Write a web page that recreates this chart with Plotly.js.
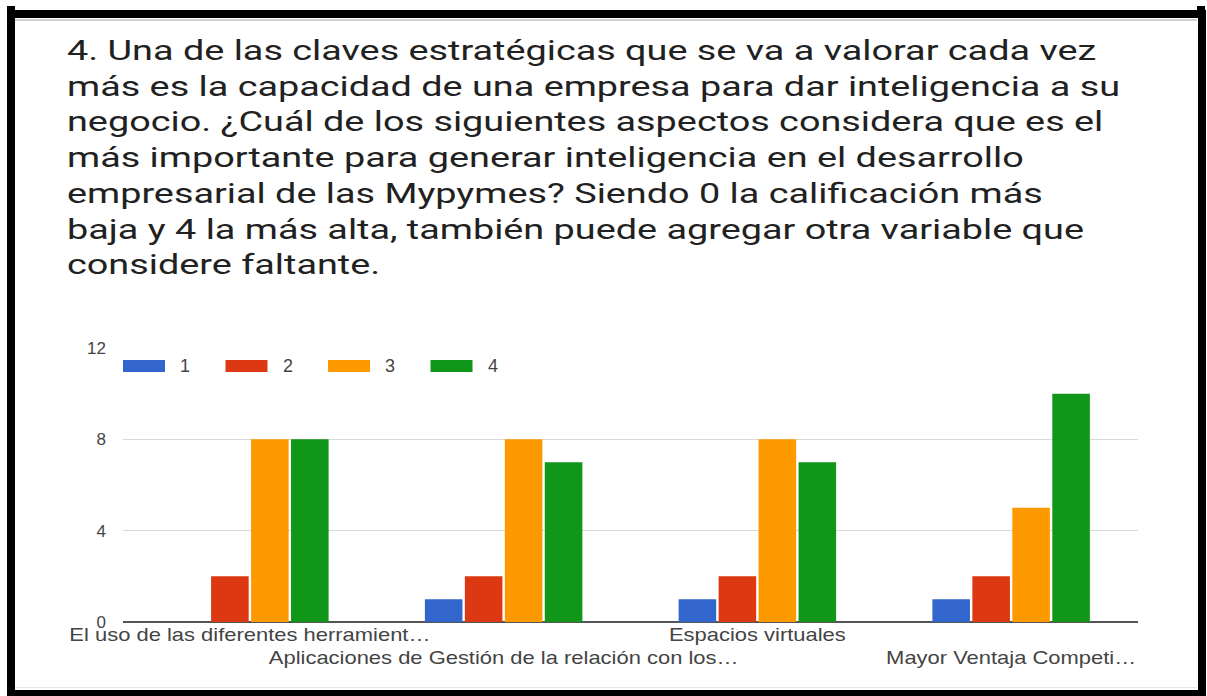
<!DOCTYPE html>
<html>
<head>
<meta charset="utf-8">
<script src="https://cdn.plot.ly/plotly-3.0.1.min.js"></script>
<style>
  html, body { margin: 0; padding: 0; background: #fff; overflow: hidden; }
  #chart { width: 1207px; height: 696px; }
  #frame { position: absolute; left: 7px; top: 10px; width: 1183px; height: 672px; border: 8px solid #000; pointer-events: none; }
  #nub { position: absolute; left: 7px; top: 6px; width: 8px; height: 6px; background: #000; }
  #nub2 { position: absolute; left: 1197px; top: 6px; width: 8px; height: 6px; background: #000; }
  #hl1 { position: absolute; left: 15px; top: 19px; width: 1182px; height: 2px; background: #d0d0d0; }
  #hl2 { position: absolute; left: 15px; top: 687px; width: 1182px; height: 1px; background: #e6e6e6; }
</style>
</head>
<body>
<div id="chart"></div>
<div id="frame"></div>
<div id="nub"></div>
<div id="nub2"></div>
<div id="hl1"></div>
<div id="hl2"></div>
<script>
const categories = [
  "El uso de las diferentes herramient\u2026",
  "Aplicaciones de Gesti\u00f3n de la relaci\u00f3n con los\u2026",
  "Espacios virtuales",
  "Mayor Ventaja Competi\u2026"
];
const seriesNames = ["1", "2", "3", "4"];
const values1 = [0, 1, 1, 1];
const values2 = [2, 2, 2, 2];
const values3 = [8, 8, 8, 5];
const values4 = [8, 7, 7, 10];
const yTicks = [0, 4, 8, 12];
const colors = ["#3366cc", "#dc3912", "#ff9900", "#109618"];

const titleText = "4. Una de las claves estrat\u00e9gicas que se va a valorar cada vez<br>" +
  "m\u00e1s es la capacidad de una empresa para dar inteligencia a su<br>" +
  "negocio. \u00bfCu\u00e1l de los siguientes aspectos considera que es el<br>" +
  "m\u00e1s importante para generar inteligencia en el desarrollo<br>" +
  "empresarial de las Mypymes? Siendo 0 la calificaci\u00f3n m\u00e1s<br>" +
  "baja y 4 la m\u00e1s alta, tambi\u00e9n puede agregar otra variable que<br>" +
  "considere faltante.";

const allValues = [values1, values2, values3, values4];
const traces = allValues.map((v, i) => ({
  type: "bar",
  name: seriesNames[i],
  x: categories,
  y: v,
  marker: { color: colors[i], line: { width: 0 } },
  showlegend: false,
  hoverinfo: "x+y+name"
}));

// alternate tick labels on two rows
const tickText = categories.map((c, i) => (i % 2 === 1 ? "<br>" + c : c));

const W = 1207, H = 696;
const PL = 123, PR = 1138, PT = 348, PB = 622;

// custom wide legend swatches
const shapes = [];
const annotations = [];
const legX0 = 123, legStep = 102.5, swW = 42, legY = 366;
seriesNames.forEach((n, i) => {
  const x0 = legX0 + i * legStep;
  shapes.push({
    type: "rect", xref: "paper", yref: "paper",
    x0: (x0 - PL) / (PR - PL), x1: (x0 + swW - PL) / (PR - PL),
    y0: (PB - (legY + 6)) / (PB - PT), y1: (PB - (legY - 6)) / (PB - PT),
    fillcolor: colors[i], line: { width: 0 }
  });
  annotations.push({
    xref: "paper", yref: "paper",
    x: (x0 + swW + 13 - PL) / (PR - PL),
    y: (PB - legY) / (PB - PT),
    xanchor: "left", yanchor: "middle",
    text: n, showarrow: false,
    font: { family: "Liberation Sans, Arial, sans-serif", size: 18, color: "#444" }
  });
});

const layout = {
  width: W, height: H,
  paper_bgcolor: "#fff", plot_bgcolor: "#fff",
  margin: { l: PL, r: W - PR, t: PT, b: H - PB, pad: 0 },
  title: {
    text: titleText,
    x: 67 / W, xanchor: "left", xref: "container",
    y: 1 - 60 / H, yanchor: "top", yref: "container",
    font: { family: "Roboto, sans-serif", size: 27.5, color: "#212121" },
    align: "left"
  },
  barmode: "group",
  bargap: 0.37,
  bargroupgap: 0.06,
  xaxis: {
    type: "category",
    tickvals: categories,
    ticktext: tickText,
    showgrid: false,
    showline: false,
    zeroline: false,
    ticks: "",
    tickfont: { family: "Liberation Sans, Arial, sans-serif", size: 18, color: "#444" },
    tickangle: 0,
    automargin: false
  },
  yaxis: {
    range: [0, 12],
    tickvals: yTicks,
    ticktext: yTicks.map(String),
    showgrid: true,
    gridcolor: "#d9d9d9",
    gridwidth: 1,
    zeroline: true,
    zerolinecolor: "#555",
    zerolinewidth: 2,
    ticks: "",
    ticklabelstandoff: 16,
    tickfont: { family: "Liberation Sans, Arial, sans-serif", size: 17, color: "#444" },
    automargin: false
  },
  shapes: shapes,
  annotations: annotations,
  showlegend: false
};

Plotly.newPlot("chart", traces, layout, { displayModeBar: false, staticPlot: true }).then(gd => {
  // the reference screenshot is horizontally stretched: stretch the text the same way
  const tg = gd.querySelector(".g-gtitle");
  if (tg) {
    const s = 1.375, ox = 67;
    const old = tg.getAttribute("transform") || "";
    tg.setAttribute("transform", `${old} translate(${ox},0) scale(${s},1) translate(${-ox},0)`);
  }
  gd.querySelectorAll(".xtick").forEach(g => {
    const t = g.querySelector("text");
    if (!t) return;
    const r = t.getBoundingClientRect();
    const ctm = g.getScreenCTM();
    if (!ctm) return;
    const p = new DOMPoint(r.x + r.width / 2, r.y).matrixTransform(ctm.inverse());
    const cx = p.x, s = 1.22;
    const old = g.getAttribute("transform") || "";
    g.setAttribute("transform", `${old} translate(${cx},0) scale(${s},1) translate(${-cx},0)`);
  });
});
</script>
</body>
</html>
